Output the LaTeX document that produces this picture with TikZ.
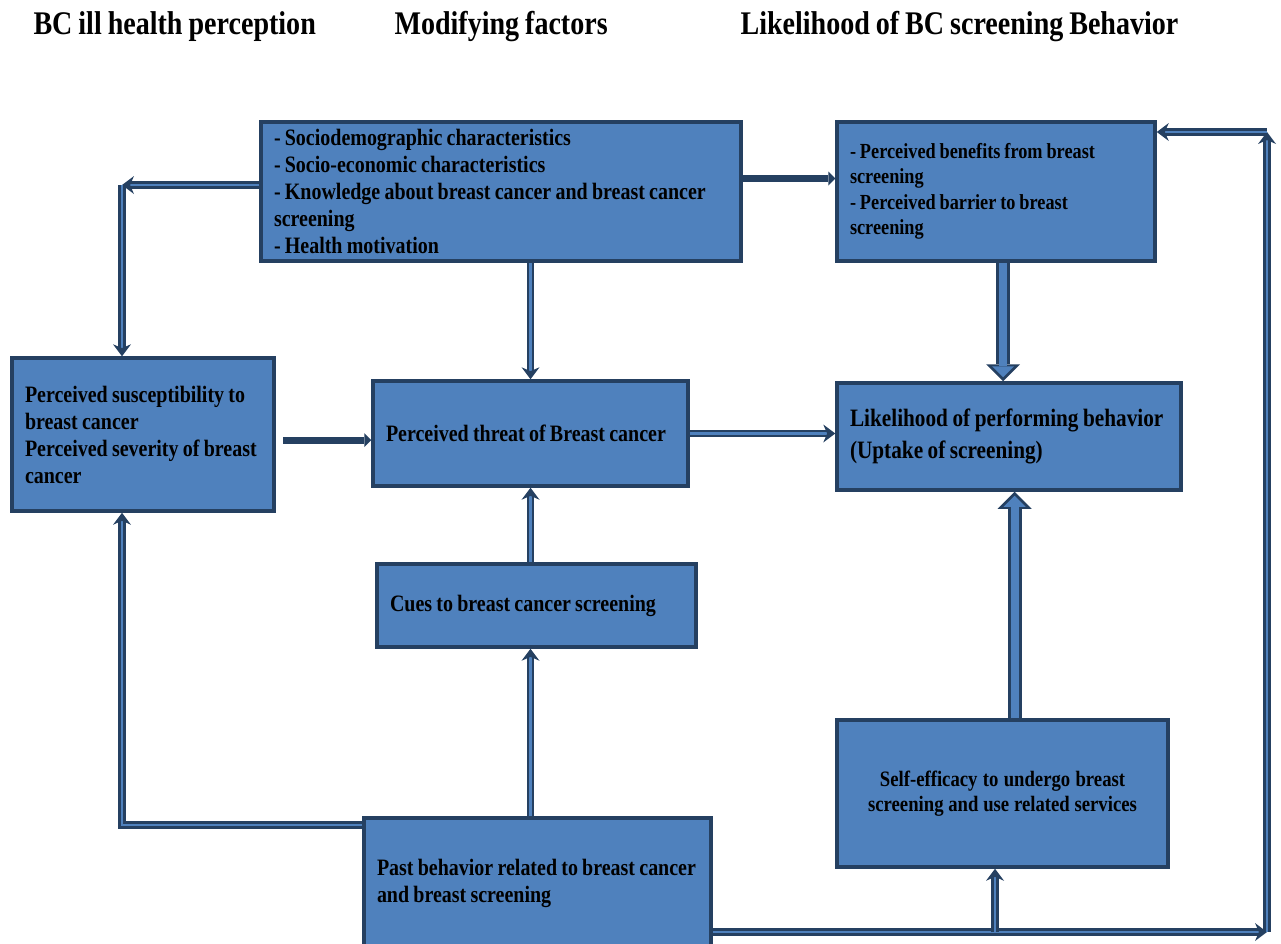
\documentclass[tikz,border=0pt]{standalone}
\usepackage{fontspec}
\setmainfont[FakeStretch=0.85, WordSpace=0.85]{Liberation Serif}
\usetikzlibrary{arrows.meta}
\definecolor{boxblue}{HTML}{4F81BD}
\definecolor{boxedge}{HTML}{254061}
\hyphenpenalty=10000
\begin{document}
\begin{tikzpicture}[x=1pt, y=-1pt,
  box/.style={rectangle, draw=boxedge, line width=3.5pt, fill=boxblue, inner xsep=13pt, inner ysep=0pt, align=left, execute at begin node={\spaceskip=0pt\xspaceskip=0pt\relax}, font=\bfseries\fontsize{23.5}{27}\selectfont},
  pipe/.style={draw=boxedge, line width=2.2pt, double=boxblue, double distance=2.8pt, -{Stealth[length=12pt, width=18pt, line width=0pt]}},
  bold/.style={draw=boxedge, line width=7pt, -{Triangle[length=7pt, width=14pt, line width=0pt]}},
  block/.style={draw=boxedge, line width=14pt, -{Triangle[length=17pt, width=34pt, line width=0pt]}, postaction={draw=boxblue, line width=8pt, shorten >=4pt, -{Triangle[length=11pt, width=22pt, line width=0pt]}}},
  title/.style={anchor=west, font=\bfseries\fontsize{33}{36}\selectfont}]
\useasboundingbox (0,0) rectangle (1281,943);
\node[title] (t1) at (30,27){BC ill health perception};
\node[title] (t2) at (391,27){Modifying factors};
\node[title] (t3) at (737,27){Likelihood of BC screening Behavior};
\node[box, minimum width=480, minimum height=139, text width=454] (modf) at (501,191.5){- Sociodemographic characteristics\\- Socio-economic characteristics\\- Knowledge about breast cancer and breast cancer\\screening\\- Health motivation};
\node[box, minimum width=318, minimum height=139, text width=292, font=\bfseries\fontsize{21.5}{25.5}\selectfont] (bene) at (996,191.5){- Perceived benefits from breast\\screening\\- Perceived barrier to breast\\screening};
\node[box, minimum width=262, minimum height=153, text width=236] (susc) at (143,434.5){Perceived susceptibility to\\breast cancer\\Perceived severity of breast\\cancer};
\node[box, minimum width=315, minimum height=105, text width=289] (thrt) at (530.5,433.5){Perceived threat of Breast cancer};
\node[box, minimum width=344, minimum height=107, text width=318, font=\bfseries\fontsize{25}{32}\selectfont] (like) at (1009,436.5){Likelihood of performing behavior\\(Uptake of screening)};
\node[box, minimum width=319, minimum height=83, text width=293] (cues) at (536.5,605.5){Cues to breast cancer screening};
\node[box, minimum width=331, minimum height=147, text width=305, align=center, font=\bfseries\fontsize{22}{25}\selectfont] (self) at (1002.5,793.5){Self-efficacy to undergo breast\\screening and use related services};
\node[box, minimum width=347, minimum height=131, text width=321] (past) at (537.5,883.5){Past behavior related to breast cancer\\and breast screening};
\coordinate (c1) at (122,185);
\coordinate (c2) at (283,440);
\coordinate (c3) at (122,825);
\coordinate (c4) at (1267,932);
\coordinate (c5) at (1267,132);
\coordinate (c6) at (995,932);
\draw[pipe] (modf.west |- c1) -- (c1);
\draw[pipe] (c1) -- (c1 |- susc.north);
\draw[pipe] (thrt.north |- modf.south) -- (thrt.north);
\draw[bold] ([yshift=13]modf.east) -- ([yshift=13]bene.west);
\draw[block] ([xshift=7]bene.south) -- ([xshift=7]bene.south |- like.north);
\draw[bold] (c2) -- (c2 -| thrt.west);
\draw[pipe] (thrt.east) -- (thrt.east -| like.west);
\draw[pipe] (thrt.south |- cues.north) -- (thrt.south);
\draw[pipe] (thrt.south |- past.north) -- (thrt.south |- cues.south);
\draw[pipe] (past.west |- c3) -- (c3) -- (c3 |- susc.south);
\draw[block] ([xshift=12]self.north) -- ([xshift=12]self.north |- like.south);
\draw[pipe] (past.east |- c4) -- (c4);
\draw[pipe] (c4) -- (c5);
\draw[pipe] (c5) -- (c5 -| bene.east);
\draw[pipe] (c6) -- (c6 |- self.south);
\end{tikzpicture}
\end{document}
